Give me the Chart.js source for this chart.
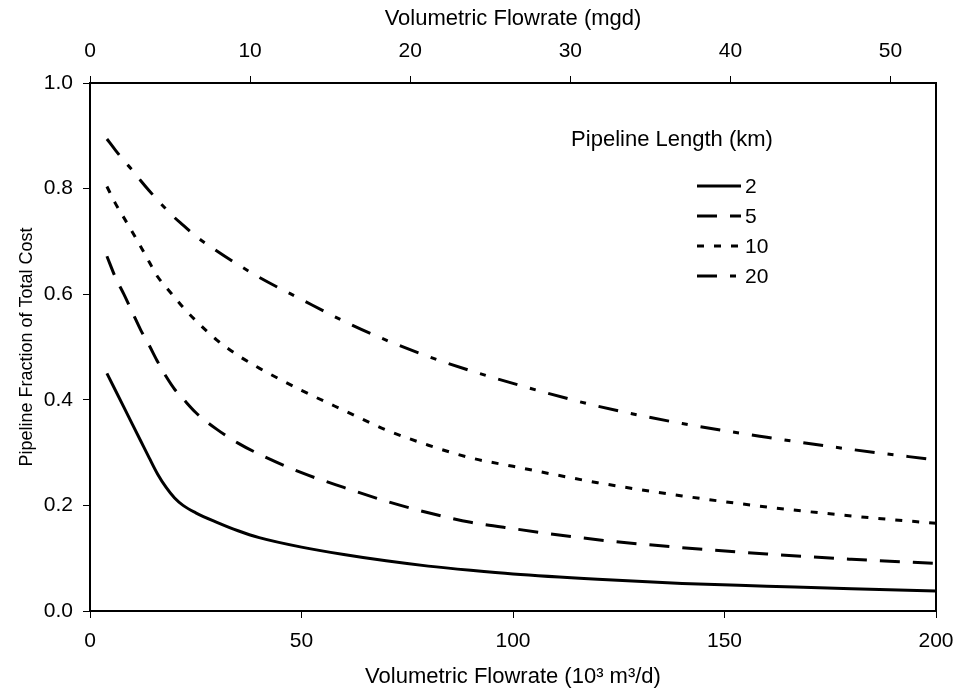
<!DOCTYPE html>
<html>
<head>
<meta charset="utf-8">
<script src="https://cdn.jsdelivr.net/npm/chart.js@4.4.1/dist/chart.umd.min.js"></script>
<style>
  html, body { margin: 0; padding: 0; background: #ffffff; }
  #wrap { width: 958px; height: 700px; }
</style>
</head>
<body>
<div id="wrap"><canvas id="c" width="958" height="700"></canvas></div>
<script>
// ---- data ----
const flowrate = [4, 6, 8, 10, 12, 14, 16, 18, 20, 22, 25, 30, 35, 40, 50, 60, 70, 80, 90, 100, 120, 140, 160, 180, 200]; // 10^3 m3/d
const len2km  = [0.450, 0.418, 0.386, 0.354, 0.322, 0.290, 0.259, 0.234, 0.214, 0.200, 0.186, 0.168, 0.152, 0.139, 0.121, 0.107, 0.095, 0.085, 0.077, 0.070, 0.060, 0.052, 0.047, 0.042, 0.038];
const len5km  = [0.672, 0.632, 0.600, 0.566, 0.532, 0.503, 0.472, 0.444, 0.420, 0.402, 0.376, 0.344, 0.318, 0.297, 0.262, 0.234, 0.208, 0.186, 0.168, 0.156, 0.135, 0.120, 0.108, 0.098, 0.090];
const len10km = [0.804, 0.772, 0.745, 0.718, 0.690, 0.661, 0.633, 0.613, 0.594, 0.575, 0.550, 0.513, 0.484, 0.460, 0.418, 0.380, 0.343, 0.314, 0.290, 0.274, 0.243, 0.218, 0.197, 0.180, 0.166];
const len20km = [0.894, 0.873, 0.853, 0.835, 0.815, 0.796, 0.778, 0.761, 0.745, 0.731, 0.710, 0.682, 0.656, 0.632, 0.590, 0.549, 0.513, 0.482, 0.455, 0.431, 0.388, 0.355, 0.329, 0.306, 0.286];
const seriesLabels = ['2', '5', '10', '20'];
const legendTitle = 'Pipeline Length (km)';
const yTickLabels = ['0.0', '0.2', '0.4', '0.6', '0.8', '1.0'];
const bottomTicks = [0, 50, 100, 150, 200];
const topTicks = [0, 10, 20, 30, 40, 50];
const m3dPerMgd = 3.785; // 1 mgd = 3.785 x 10^3 m3/d
const xTitle = 'Volumetric Flowrate (10\u00B3 m\u00B3/d)';
const x2Title = 'Volumetric Flowrate (mgd)';
const yTitle = 'Pipeline Fraction of Total Cost';

const FONT = "'Liberation Sans', Arial, sans-serif";
const toPts = arr => arr.map((v, i) => ({ x: flowrate[i], y: v }));
const dashes = [[], [20, 13], [7, 10], [20, 13, 6, 13]];
const allSeries = [len2km, len5km, len10km, len20km];

const datasets = allSeries.map((s, i) => ({
  label: seriesLabels[i],
  data: toPts(s),
  borderColor: '#000000',
  borderWidth: 3,
  borderDash: dashes[i],
  borderCapStyle: 'butt',
  pointRadius: 0,
  fill: false,
  cubicInterpolationMode: 'monotone',
  xAxisID: 'x',
  yAxisID: 'y'
}));

const frame = {
  id: 'frame',
  afterDraw(chart) {
    const { ctx, chartArea: a } = chart;
    ctx.save();
    ctx.strokeStyle = '#000';
    ctx.lineWidth = 2;
    ctx.beginPath();
    ctx.moveTo(a.right, a.top - 1);
    ctx.lineTo(a.right, a.bottom + 1);
    ctx.stroke();
    ctx.restore();
  }
};

const customLegend = {
  id: 'customLegend',
  afterDraw(chart) {
    const ctx = chart.ctx;
    ctx.save();
    ctx.fillStyle = '#000';
    ctx.font = "22px " + FONT;
    ctx.textAlign = 'center';
    ctx.textBaseline = 'middle';
    ctx.fillText(legendTitle, 672, 140);
    const x0 = 697, x1 = 741, ys = [186, 216, 246, 276];
    chart.data.datasets.forEach((ds, i) => {
      ctx.beginPath();
      ctx.setLineDash(ds.borderDash || []);
      ctx.lineWidth = ds.borderWidth;
      ctx.strokeStyle = ds.borderColor;
      ctx.lineCap = 'butt';
      ctx.moveTo(x0, ys[i]);
      ctx.lineTo(x1, ys[i]);
      ctx.stroke();
      ctx.setLineDash([]);
      ctx.font = "21px " + FONT;
      ctx.textAlign = 'left';
      ctx.fillText(ds.label, x1 + 4, ys[i] + 1);
    });
    ctx.restore();
  }
};

function noPad(s) { s.paddingLeft = 0; s.paddingRight = 0; }

new Chart(document.getElementById('c'), {
  type: 'line',
  data: { datasets },
  plugins: [frame, customLegend],
  options: {
    responsive: false,
    animation: false,
    layout: { padding: { left: 0, right: 22, top: 0, bottom: 0 } },
    plugins: { legend: { display: false }, tooltip: { enabled: false } },
    scales: {
      x: {
        type: 'linear', position: 'bottom', min: 0, max: 200,
        afterFit(s) { s.height = 89; noPad(s); },
        afterBuildTicks(s) { s.ticks = bottomTicks.map(v => ({ value: v })); },
        ticks: { color: '#000', font: { size: 21, family: FONT }, padding: 11, maxRotation: 0, includeBounds: false,
                 callback: v => String(v) },
        grid: { display: true, drawOnChartArea: false, drawTicks: true, tickLength: 7, color: '#000', lineWidth: 1 },
        border: { display: true, color: '#000', width: 2 },
        title: { display: true, text: xTitle, color: '#000', font: { size: 22, family: FONT }, padding: { top: 0, bottom: 10 } }
      },
      x2: {
        type: 'linear', position: 'top', min: 0, max: 200 / m3dPerMgd,
        afterFit(s) { s.height = 83; noPad(s); },
        afterBuildTicks(s) { s.ticks = topTicks.map(v => ({ value: v })); },
        ticks: { color: '#000', font: { size: 21, family: FONT }, padding: 12, maxRotation: 0, includeBounds: false,
                 callback: v => String(v) },
        grid: { display: true, drawOnChartArea: false, drawTicks: true, tickLength: 7, color: '#000', lineWidth: 1 },
        border: { display: true, color: '#000', width: 2 },
        title: { display: true, text: x2Title, color: '#000', font: { size: 22, family: FONT }, padding: { top: 6, bottom: 0 } }
      },
      y: {
        type: 'linear', position: 'left', min: 0, max: 1,
        afterFit(s) { s.width = 90; },
        afterBuildTicks(s) { s.ticks = yTickLabels.map(t => ({ value: parseFloat(t) })); },
        ticks: { color: '#000', font: { size: 21, family: FONT }, padding: 10,
                 callback: (v, i) => yTickLabels[i] },
        grid: { display: true, drawOnChartArea: false, drawTicks: true, tickLength: 7, color: '#000', lineWidth: 1 },
        border: { display: true, color: '#000', width: 2 },
        title: { display: true, text: yTitle, color: '#000', font: { size: 18, family: FONT }, padding: { top: 16, bottom: 0 } }
      }
    }
  }
});
</script>
</body>
</html>
